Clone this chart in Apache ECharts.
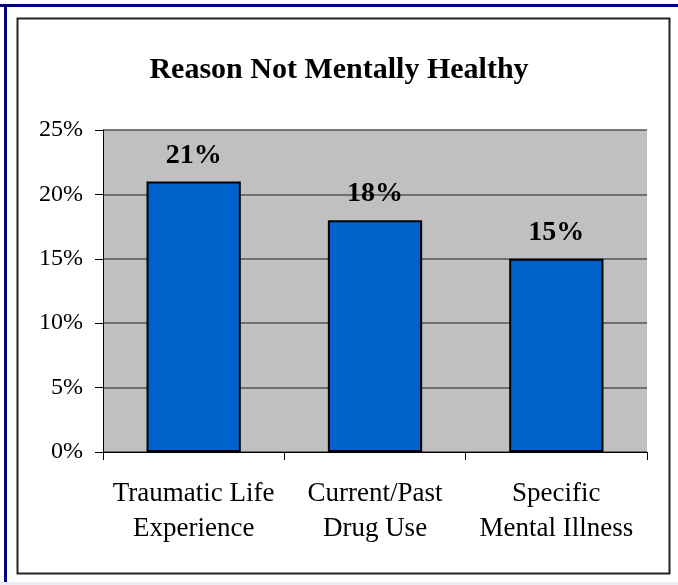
<!DOCTYPE html>
<html>
<head>
<meta charset="utf-8">
<script src="https://cdn.jsdelivr.net/npm/echarts@6/dist/echarts.min.js"></script>
<style>html,body{margin:0;padding:0;background:#fff;}#c{width:678px;height:585px;}</style>
</head>
<body>
<div id="c"></div>
<script>
var categories = ['Traumatic Life\nExperience', 'Current/Past\nDrug Use', 'Specific\nMental Illness'];
var values = [21, 18, 15];
var yTicks = [0, 5, 10, 15, 20, 25];
var titleText = 'Reason Not Mentally Healthy';

var chart = echarts.init(document.getElementById('c'), null, {renderer: 'canvas'});
var serif = '"Liberation Serif", "DejaVu Serif", serif';
chart.setOption({
  animation: false,
  backgroundColor: '#ffffff',
  title: {
    text: titleText,
    left: 'center',
    top: 50,
    textStyle: {fontFamily: serif, fontWeight: 'bold', fontSize: 30, color: '#000'}
  },
  graphic: [
    {type: 'rect', shape: {x: 0, y: 4, width: 678, height: 3}, style: {fill: '#000080'}, silent: true},
    {type: 'rect', shape: {x: 4, y: 4, width: 3, height: 581}, style: {fill: '#000080'}, silent: true},
    {type: 'rect', shape: {x: 17.5, y: 18.5, width: 652, height: 555}, style: {fill: 'none', stroke: '#222', lineWidth: 2}, silent: true},
    {type: 'rect', shape: {x: 0, y: 582, width: 678, height: 3}, style: {fill: '#ececf4'}, silent: true}
  ],
  grid: {left: 103, right: 31, top: 130, bottom: 133, show: true, backgroundColor: '#c0c0c0', borderWidth: 0},
  xAxis: {
    type: 'category',
    data: categories,
    axisLine: {show: true, lineStyle: {color: '#000', width: 1}},
    axisTick: {show: true, length: 8, alignWithLabel: false, lineStyle: {color: '#000'}},
    axisLabel: {interval: 0, fontFamily: serif, fontSize: 27, color: '#000', margin: 24, lineHeight: 35}
  },
  yAxis: {
    type: 'value',
    min: 0, max: 25, interval: 5,
    axisLine: {show: true, lineStyle: {color: '#000', width: 1}},
    axisTick: {show: true, length: 8, lineStyle: {color: '#000'}},
    splitLine: {show: true, lineStyle: {color: '#555', width: 1.5}},
    axisLabel: {fontFamily: serif, fontSize: 24, color: '#000', margin: 20, formatter: function (v) { return v + '%'; }}
  },
  series: [{
    type: 'bar',
    data: values,
    barWidth: '52%',
    itemStyle: {color: '#0063CC', borderColor: '#000', borderWidth: 2},
    label: {
      show: true, position: 'top', distance: 12,
      fontFamily: serif, fontWeight: 'bold', fontSize: 28, color: '#000',
      formatter: function (p) { return p.value + '%'; }
    }
  }]
});
</script>
</body>
</html>
